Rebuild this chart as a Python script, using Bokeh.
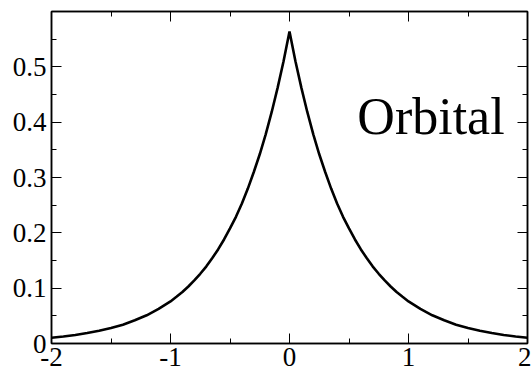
from bokeh.plotting import figure
from bokeh.models import LinearAxis, FixedTicker, Range1d, Label
from bokeh.embed import file_html
from bokeh.resources import INLINE

x_vals = [-2.0, -1.9, -1.8, -1.7, -1.6, -1.5, -1.4, -1.3, -1.2, -1.1,
          -1.0, -0.95, -0.9, -0.85, -0.8, -0.75, -0.7, -0.65, -0.6, -0.55,
          -0.5, -0.45, -0.4, -0.35, -0.3, -0.25, -0.2, -0.15, -0.1, -0.05,
          0.0,
          0.05, 0.1, 0.15, 0.2, 0.25, 0.3, 0.35, 0.4, 0.45, 0.5,
          0.55, 0.6, 0.65, 0.7, 0.75, 0.8, 0.85, 0.9, 0.95, 1.0,
          1.1, 1.2, 1.3, 1.4, 1.5, 1.6, 1.7, 1.8, 1.9, 2.0]
y_vals = [0.0103, 0.0126, 0.0154, 0.019, 0.023, 0.028, 0.034, 0.042, 0.051, 0.0625,
          0.076, 0.0844, 0.093, 0.103, 0.114, 0.126, 0.139, 0.154, 0.170, 0.188,
          0.208, 0.229, 0.253, 0.280, 0.310, 0.342, 0.378, 0.418, 0.462, 0.510,
          0.564,
          0.510, 0.462, 0.418, 0.378, 0.342, 0.310, 0.280, 0.253, 0.229, 0.208,
          0.188, 0.170, 0.154, 0.139, 0.126, 0.114, 0.103, 0.093, 0.0844, 0.076,
          0.0625, 0.051, 0.042, 0.034, 0.028, 0.023, 0.019, 0.0154, 0.0126, 0.0103]

x_ticks = [-2, -1, 0, 1, 2]
x_tick_labels = ["-2", "-1", "0", "1", "2"]
x_minor = [-1.5, -0.5, 0.5, 1.5]
y_ticks = [0, 0.1, 0.2, 0.3, 0.4, 0.5]
y_tick_labels = ["0", "0.1", "0.2", "0.3", "0.4", "0.5"]
y_minor = [0.05, 0.15, 0.25, 0.35, 0.45, 0.55]
label_text = "Orbital"

FONT = "Liberation Serif"

p = figure(width=531, height=368, output_backend="svg", toolbar_location=None,
           x_range=Range1d(-2, 2), y_range=Range1d(0, 0.6),
           x_axis_location=None, y_axis_location=None,
           min_border_left=51, min_border_top=11, min_border_right=4, min_border_bottom=0)
p.background_fill_color = "white"
p.border_fill_color = "white"
p.outline_line_color = "black"
p.outline_line_width = 1.5
p.xgrid.visible = False
p.ygrid.visible = False


def style(ax, ticks, labels):
    ax.axis_line_color = "black"
    ax.axis_line_width = 1.5
    ax.major_tick_in = 10
    ax.major_tick_out = 0
    ax.minor_tick_in = 5
    ax.minor_tick_out = 0
    ax.major_tick_line_color = "black"
    ax.minor_tick_line_color = "black"
    ax.major_tick_line_width = 1
    ax.minor_tick_line_width = 1
    if labels is not None:
        ax.major_label_text_font = FONT
        ax.major_label_text_font_size = "27px"
        ax.major_label_text_color = "black"
        ax.major_label_overrides = {t: s for t, s in zip(ticks, labels)}
    else:
        ax.major_label_text_font_size = "1px"
        ax.major_label_standoff = 0
        ax.major_label_overrides = {t: "" for t in ticks}


xt = FixedTicker(ticks=x_ticks, minor_ticks=x_minor)
yt = FixedTicker(ticks=y_ticks, minor_ticks=y_minor)

bottom = LinearAxis(ticker=xt)
style(bottom, x_ticks, x_tick_labels)
bottom.major_label_standoff = 4
left = LinearAxis(ticker=yt)
style(left, y_ticks, y_tick_labels)
left.major_label_standoff = 5
top = LinearAxis(ticker=xt)
style(top, x_ticks, None)
right = LinearAxis(ticker=yt)
style(right, y_ticks, None)

p.add_layout(bottom, "below")
p.add_layout(left, "left")
p.add_layout(top, "above")
p.add_layout(right, "right")

p.line(x_vals, y_vals, line_color="black", line_width=2.6)

p.add_layout(Label(x=0.57, y=0.41, text=label_text, text_font=FONT,
                   text_font_size="52px", text_color="black",
                   text_baseline="alphabetic", text_align="left"))

open("out.html", "w").write(file_html(p, INLINE))
